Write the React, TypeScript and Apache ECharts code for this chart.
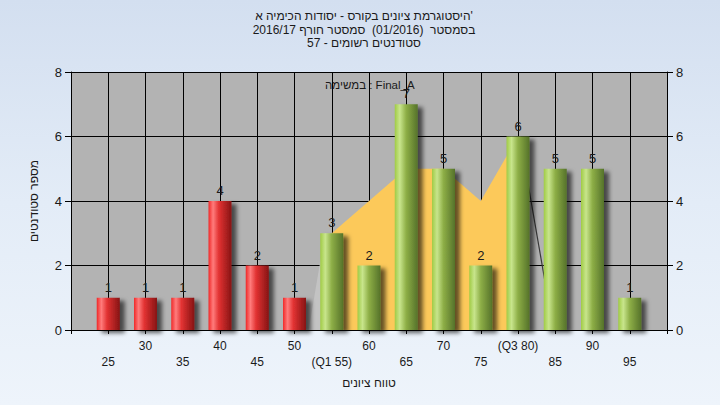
import React, { useEffect, useRef } from "react";
import * as echarts from "echarts";

const titleLines = [
  "היסטוגרמת ציונים בקורס - יסודות הכימיה א'",
  "בסמסטר  (01/2016)  סמסטר חורף 2016/17",
  "סטודנטים רשומים - 57",
];
const legendText = "במשימה : Final_A";
const xAxisName = "טווח ציונים";
const yAxisName = "מספר סטודנטים";

const scores = [25, 30, 35, 40, 45, 50, 55, 60, 65, 70, 75, 80, 85, 90, 95];
const counts = [1, 1, 1, 4, 2, 1, 3, 2, 7, 5, 2, 6, 5, 5, 1];
const passScore = 55;
const q1Score = 55;
const q3Score = 80;
const yTicks = [0, 2, 4, 6, 8];

// distribution overlay, in bin-index units (bin i at x = i + 1)
const distLeft = [
  [6.38, 0],
  [6.82, 3],
  [7, 3],
];
const quartileBand = [
  [7, 3],
  [8, 4],
  [9, 5],
  [10, 5],
  [11, 4],
  [12, 6],
];
const distRight = [
  [12.05, 6],
  [12.95, 0],
];

const FONT = "'Liberation Sans', Arial, sans-serif";

function tickLabel(v: number): string {
  const i = Math.round(v) - 1;
  if (i < 0 || i >= scores.length) return "";
  const s = scores[i];
  let t = String(s);
  if (s === q1Score) t = "(Q1 " + s + ")";
  if (s === q3Score) t = "(Q3 " + s + ")";
  return i % 2 === 0 ? "\n" + t : t;
}

export default function App() {
  const ref = useRef<HTMLDivElement>(null);
  useEffect(() => {
    if (!ref.current) return;
    const chart = echarts.init(ref.current, null, { renderer: "svg" });
    const redGrad = new echarts.graphic.LinearGradient(0, 0, 1, 0, [
      { offset: 0, color: "#f02828" },
      { offset: 0.2, color: "#ff7c7c" },
      { offset: 0.45, color: "#e23232" },
      { offset: 1, color: "#861414" },
    ]);
    const greenGrad = new echarts.graphic.LinearGradient(0, 0, 1, 0, [
      { offset: 0, color: "#a0cb45" },
      { offset: 0.22, color: "#c8e58c" },
      { offset: 0.5, color: "#8dae46" },
      { offset: 1, color: "#55722a" },
    ]);
    const barData = scores.map((s, i) => ({
      value: [i + 1, counts[i]],
      itemStyle: { color: s < passScore ? redGrad : greenGrad },
    }));
    const axisText = { color: "#1a1a1a", fontFamily: FONT };
    chart.setOption({
      animation: false,
      backgroundColor: "transparent",
      textStyle: { fontFamily: FONT },
      grid: {
        left: 71,
        right: 53,
        top: 72,
        bottom: 75,
        show: true,
        backgroundColor: "#b3b3b3",
        borderWidth: 0,
      },
      graphic: [
        ...titleLines.map((t, k) => ({
          type: "text",
          x: 364,
          y: 16 + k * 13.5,
          style: {
            text: t,
            textAlign: "center",
            textVerticalAlign: "middle",
            fill: "#1a1a1a",
            font: "12px " + FONT,
          },
        })),
        {
          type: "text",
          x: 325,
          y: 85,
          z: 100,
          style: {
            text: legendText,
            textAlign: "left",
            textVerticalAlign: "middle",
            fill: "#1a1a1a",
            font: "11.5px " + FONT,
          },
        },
      ],
      xAxis: {
        type: "value",
        min: 0,
        max: 16,
        interval: 1,
        name: xAxisName,
        nameLocation: "middle",
        nameGap: 47,
        nameTextStyle: { ...axisText, fontSize: 12 },
        axisLine: { show: true, onZero: false, lineStyle: { color: "#000", width: 1 } },
        axisTick: { show: true, length: 4, lineStyle: { color: "#000" } },
        splitLine: { show: true, lineStyle: { color: "#000", width: 1 } },
        axisLabel: {
          ...axisText,
          fontSize: 12,
          lineHeight: 16,
          margin: 8,
          formatter: tickLabel,
          showMinLabel: true,
          showMaxLabel: true,
        },
      },
      yAxis: [
        {
          type: "value",
          min: yTicks[0],
          max: yTicks[yTicks.length - 1],
          interval: 2,
          name: yAxisName,
          nameLocation: "middle",
          nameGap: 31,
          nameRotate: 90,
          nameTextStyle: { ...axisText, fontSize: 12 },
          axisLine: { show: true, lineStyle: { color: "#000" } },
          axisTick: { show: true, length: 6, lineStyle: { color: "#000" } },
          splitLine: { show: true, lineStyle: { color: "#000", width: 1 } },
          axisLabel: { ...axisText, fontSize: 13, margin: 9 },
        },
        {
          type: "value",
          position: "right",
          min: yTicks[0],
          max: yTicks[yTicks.length - 1],
          interval: 2,
          axisLine: { show: true, lineStyle: { color: "#000" } },
          axisTick: { show: true, length: 6, lineStyle: { color: "#000" } },
          splitLine: { show: false },
          axisLabel: { ...axisText, fontSize: 13, margin: 9 },
        },
      ],
      series: [
        {
          type: "line",
          data: distLeft,
          symbol: "none",
          lineStyle: { width: 0 },
          areaStyle: { color: "#c3c3c3", opacity: 1 },
          z: 1,
        },
        {
          type: "line",
          data: quartileBand,
          symbol: "none",
          lineStyle: { width: 0 },
          areaStyle: { color: "#fcc95a", opacity: 1 },
          z: 2,
        },
        {
          type: "line",
          data: distRight,
          symbol: "none",
          lineStyle: { width: 1.2, color: "#3a3a3a" },
          z: 2,
        },
        {
          type: "bar",
          data: barData,
          barWidth: 23,
          z: 5,
          itemStyle: {
            shadowColor: "rgba(0,0,0,0.6)",
            shadowBlur: 4,
            shadowOffsetX: 5,
            shadowOffsetY: 3,
          },
          label: {
            show: true,
            position: "top",
            distance: 4,
            color: "#1a1a1a",
            fontSize: 13,
            fontFamily: FONT,
            formatter: (p: any) => String(p.value[1]),
          },
        },
      ],
    });
    return () => chart.dispose();
  }, []);
  return (
    <div
      style={{
        position: "fixed",
        left: 0,
        top: 0,
        width: 720,
        height: 405,
        background: "linear-gradient(180deg, #d3dff0 0%, #e3ecf7 50%, #eef4fb 100%)",
      }}
    >
      <div ref={ref} style={{ width: 720, height: 405 }} />
    </div>
  );
}
